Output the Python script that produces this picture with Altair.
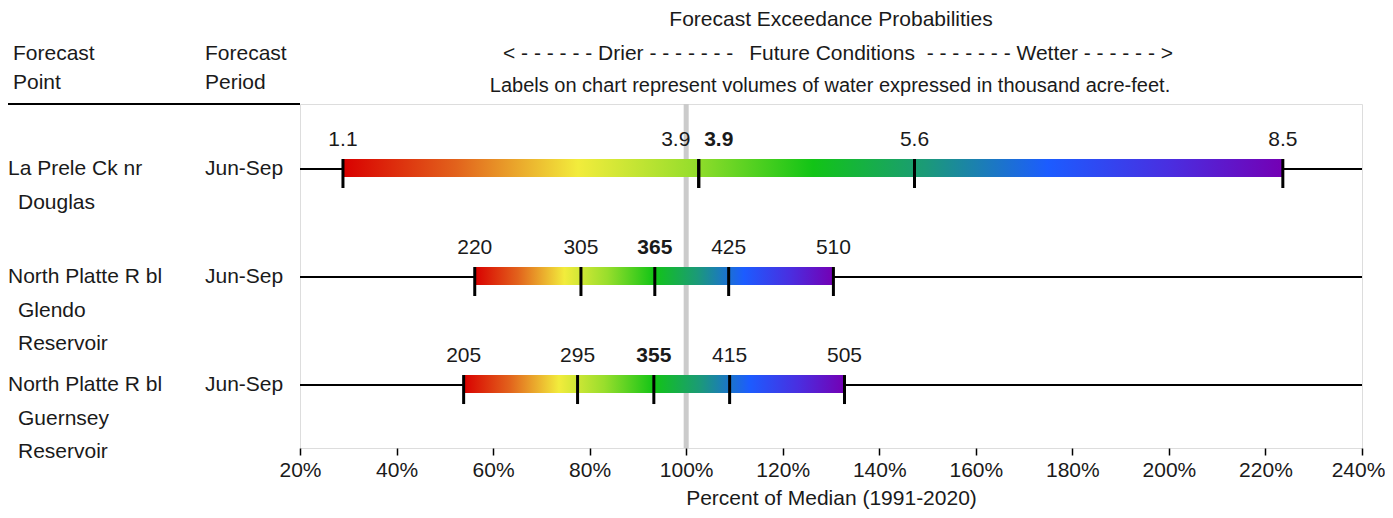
import altair as alt
import pandas as pd

# ---------------- data ----------------
point_lines = [
    ["La Prele Ck nr", "Douglas"],
    ["North Platte R bl", "Glendo", "Reservoir"],
    ["North Platte R bl", "Guernsey", "Reservoir"],
]
periods = ["Jun-Sep", "Jun-Sep", "Jun-Sep"]
exceedance = ["90%", "70%", "50%", "30%", "10%"]
volumes = [
    ["1.1", "3.9", "3.9", "5.6", "8.5"],
    ["220", "305", "365", "425", "510"],
    ["205", "295", "355", "415", "505"],
]
pct_of_median = [
    [28.9, 102.6, 102.6, 147.3, 223.6],
    [56.2, 78.2, 93.5, 108.8, 130.5],
    [53.9, 77.5, 93.3, 109.0, 132.8],
]
x_ticks = [20, 40, 60, 80, 100, 120, 140, 160, 180, 200, 220, 240]
median_ref = [100]

# ---------------- tables ----------------
recs = []
for r, (vals, pcts) in enumerate(zip(volumes, pct_of_median)):
    med = pcts[2]
    for i, (v, p) in enumerate(zip(vals, pcts)):
        recs.append(dict(row=r, exc=exceedance[i], vol=v, pct=p,
                         is_median=(i == 2), clash=(i != 2 and p == med)))
pts = pd.DataFrame(recs)
med_clash = set(pts.loc[pts.clash, "row"])
pts["med_shift"] = pts.apply(lambda d: bool(d.is_median and d.row in med_clash), axis=1)

bars = pd.DataFrame(dict(row=list(range(len(volumes))),
                         lo=[p[0] for p in pct_of_median],
                         hi=[p[-1] for p in pct_of_median]))
names = pd.DataFrame([dict(row=r, line=j, text=t)
                      for r, lines in enumerate(point_lines) for j, t in enumerate(lines)])
per = pd.DataFrame(dict(row=list(range(len(periods))), period=periods))
ref = pd.DataFrame(dict(pct=median_ref))
dummy = pd.DataFrame(dict(a=[0]))

FONT = "Liberation Sans"
FS = 21
TXT = "#1a1a1a"

xscale = alt.Scale(domain=[20, 240], nice=False, zero=False)
yscale = alt.Scale(domain=[-0.602, 2.583], nice=False, zero=False, reverse=True)
xaxis = alt.Axis(values=x_ticks, labelExpr="datum.value + '%'", title="Percent of Median (1991-2020)",
                 grid=False, domain=False, tickSize=7, tickColor="#000", tickWidth=1.5,
                 labelFontSize=FS, labelColor=TXT, labelFont=FONT, labelPadding=4, labelFlush=False,
                 labelOverlap=False,
                 labelOffset={"condition": {"test": "datum.value == 240", "value": -4}, "value": 0},
                 titleFontSize=FS, titleFontWeight="normal", titleColor=TXT, titleFont=FONT,
                 titlePadding=7)


def X(field):
    return alt.X(f"{field}:Q", scale=xscale, axis=xaxis)


Y = alt.Y("row:Q", scale=yscale, axis=None)

grad = alt.LinearGradient(
    gradient="linear", x1=0, x2=1, y1=0, y2=0,
    stops=[
        alt.GradientStop(offset=0.0, color="#d90000"),
        alt.GradientStop(offset=0.12, color="#e2621c"),
        alt.GradientStop(offset=0.25, color="#f2ec3c"),
        alt.GradientStop(offset=0.37, color="#98de2c"),
        alt.GradientStop(offset=0.5, color="#12c416"),
        alt.GradientStop(offset=0.62, color="#1b9a78"),
        alt.GradientStop(offset=0.75, color="#1c5cff"),
        alt.GradientStop(offset=0.88, color="#4a2ee0"),
        alt.GradientStop(offset=1.0, color="#7400b4"),
    ],
)

ref_line = alt.Chart(ref).mark_rule(color="#cbcbcb", strokeWidth=5).encode(x=X("pct"))
whisk = alt.Chart(bars).mark_rule(color="#000", strokeWidth=2).encode(y=Y)
bar = alt.Chart(bars).mark_rect(color=grad, yOffset=-10, y2Offset=8).encode(
    x=X("lo"), x2="hi:Q", y=Y, y2="row:Q")
ticks = alt.Chart(pts).mark_rule(color="#000", strokeWidth=3, yOffset=-10, y2Offset=19).encode(
    x=X("pct"), y=Y, y2="row:Q")

tbase = dict(font=FONT, fontSize=FS, color=TXT, baseline="middle", dy=-29)
lab_plain = alt.Chart(pts).transform_filter("!datum.is_median && !datum.clash").mark_text(**tbase).encode(
    x=X("pct"), y=Y, text="vol:N")
lab_clash = alt.Chart(pts).transform_filter("datum.clash").mark_text(dx=-23, **tbase).encode(
    x=X("pct"), y=Y, text="vol:N")
lab_med = alt.Chart(pts).transform_filter("datum.is_median && !datum.med_shift").mark_text(
    fontWeight="bold", **tbase).encode(x=X("pct"), y=Y, text="vol:N")
lab_med2 = alt.Chart(pts).transform_filter("datum.med_shift").mark_text(
    fontWeight="bold", dx=20, **tbase).encode(x=X("pct"), y=Y, text="vol:N")

nbase = dict(font=FONT, fontSize=FS, color=TXT, baseline="middle", align="left")
name_layers = []
for j in range(3):
    name_layers.append(
        alt.Chart(names).transform_filter(f"datum.line == {j}").mark_text(dy=j * 33.5, **nbase).encode(
            x=alt.value(-292 if j == 0 else -282), y=Y, text="text:N"))
period_lab = alt.Chart(per).mark_text(**nbase).encode(x=alt.value(-95), y=Y, text="period:N")


def label(text, x, y, align="center", size=FS):
    return alt.Chart(pd.DataFrame(dict(t=[text]))).mark_text(
        font=FONT, fontSize=size, color=TXT, baseline="middle", align=align).encode(
        x=alt.value(x), y=alt.value(y), text="t:N")


headers = [
    label("Forecast Exceedance Probabilities", 531, -84),
    label("< - - - - - - Drier - - - - - - -", 203, -50, "left"),
    label("Future Conditions", 532, -50),
    label("- - - - - - -  Wetter - - - - - - >", 873, -50, "right"),
    label("Labels on chart represent volumes of water expressed in thousand acre-feet.", 530, -18, size=20),
    label("Forecast", -287, -50, "left"),
    label("Point", -287, -21, "left"),
    label("Forecast", -95, -50, "left"),
    label("Period", -95, -21, "left"),
]
top_line = alt.Chart(dummy).mark_rule(color="#000", strokeWidth=2).encode(
    x=alt.value(-292), x2=alt.value(0), y=alt.value(0))

chart = alt.layer(
    ref_line, whisk, bar, ticks, lab_plain, lab_clash, lab_med, lab_med2,
    *name_layers, period_lab, *headers, top_line
).properties(
    width=1062, height=344,
    autosize=alt.AutoSizeParams(type="none"),
    padding={"left": 292, "top": 96, "right": 23, "bottom": 62},
).configure_view(stroke="#000", strokeWidth=2).configure(font=FONT)

chart.save("out.html", embed_options={"renderer": "svg", "actions": False})
